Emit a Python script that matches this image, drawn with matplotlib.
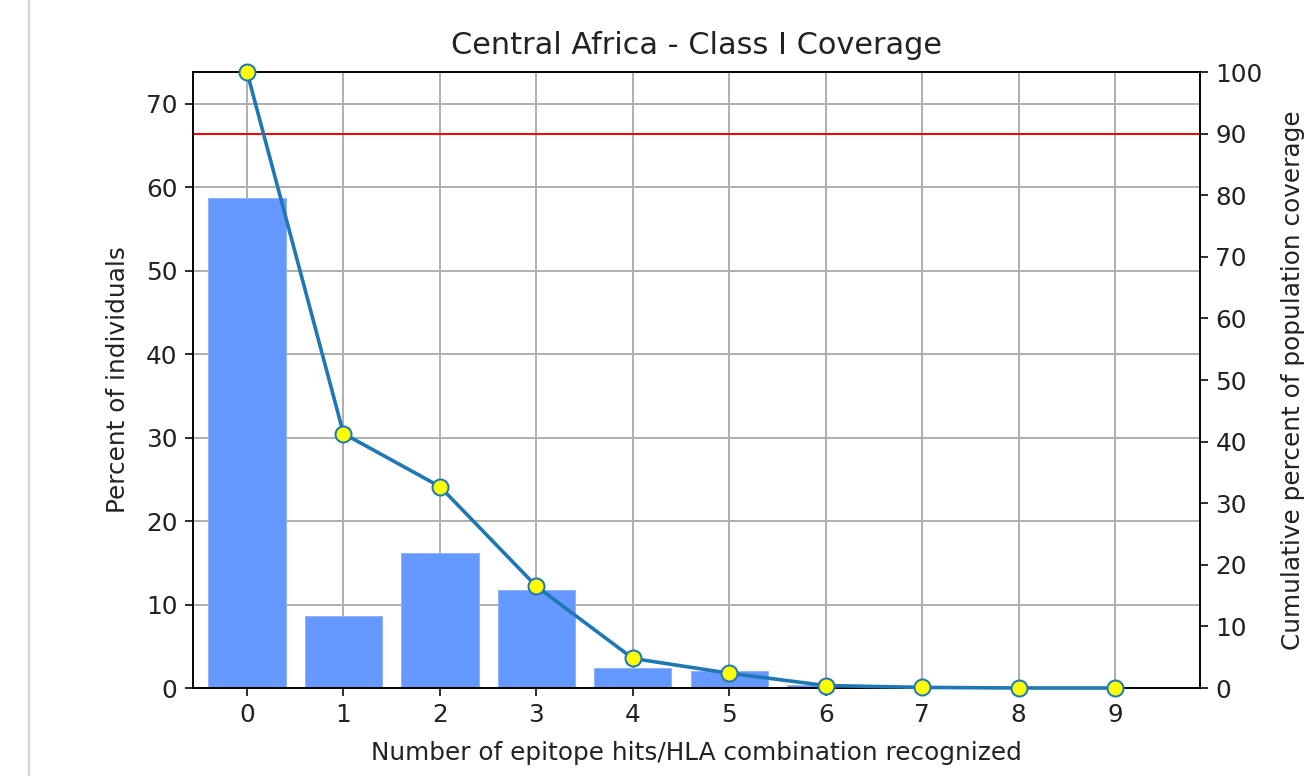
"""Central Africa - Class I coverage: bars of individuals plus cumulative coverage line."""

import matplotlib

matplotlib.use("Agg")
import matplotlib.pyplot as plt  # noqa: E402
from matplotlib.lines import Line2D  # noqa: E402

hits = [0, 1, 2, 3, 4, 5, 6, 7, 8, 9]
percent_individuals = [58.7, 8.6, 16.2, 11.7, 2.4, 2.0, 0.3, 0.1, 0.0, 0.0]
cumulative_coverage = [100.0, 41.3, 32.7, 16.5, 4.8, 2.4, 0.4, 0.1, 0.0, 0.0]
coverage_ticks = [0, 10, 20, 30, 40, 50, 60, 70, 80, 90, 100]
threshold = 90

BAR = "#6699ff"
LINE = "#1f77b4"
TXT = "#222222"
FS = 12.4

DPI = 144
plt.rcParams["font.size"] = FS
plt.rcParams["text.color"] = TXT
plt.rcParams["axes.labelcolor"] = TXT
plt.rcParams["xtick.labelcolor"] = TXT
plt.rcParams["ytick.labelcolor"] = TXT
plt.rcParams["xtick.major.size"] = 4.2
plt.rcParams["ytick.major.size"] = 4.2
fig = plt.figure(figsize=(1315 / DPI, 776 / DPI), dpi=DPI)
fig.patch.set_facecolor("white")

# notebook cell border on the left
fig.add_artist(Line2D([29 / 1315, 29 / 1315], [0, 1], color="#d6d6d6", linewidth=1.2))

ax = fig.add_axes([193 / 1315, 1 - 688 / 776, (1200 - 193) / 1315, (688 - 72) / 776])
ax.bar(hits, percent_individuals, width=0.8, color=BAR, edgecolor="#8fb3ff", linewidth=0.5, zorder=2)
ax.set_xlim(-0.56, 9.88)
ax.set_ylim(0, 73.8)
ax.set_xticks(hits)
ax.grid(True, color="#b0b0b0", linewidth=1.0, zorder=0)
ax.set_axisbelow(True)
ax.set_xlabel("Number of epitope hits/HLA combination recognized", fontsize=FS, labelpad=7)
ax.set_ylabel("Percent of individuals", fontsize=FS, labelpad=8)
ax.set_title("Central Africa - Class I Coverage", fontsize=15.2, pad=9)

ax2 = ax.twinx()
ax2.plot(hits, cumulative_coverage, color=LINE, linewidth=1.8, marker="o",
         markersize=8, markerfacecolor="yellow", markeredgecolor=LINE,
         markeredgewidth=1.0, clip_on=False, zorder=3)
ax2.axhline(threshold, color="red", linewidth=1.0)
ax2.set_ylim(0, 100)
ax2.set_yticks(coverage_ticks)
ax2.set_ylabel("Cumulative percent of population coverage", fontsize=FS, labelpad=9)

for a in (ax, ax2):
    a.tick_params(labelsize=FS)
    for s in a.spines.values():
        s.set_color("black")

fig.savefig("out.png", dpi=DPI, facecolor="white")
